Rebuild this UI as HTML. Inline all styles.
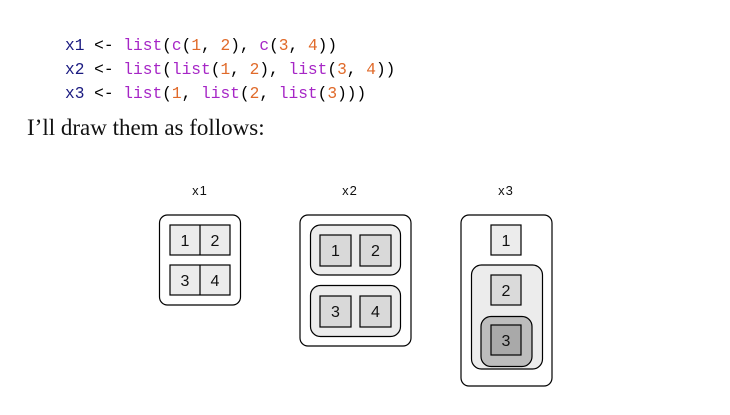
<!DOCTYPE html>
<html><head><meta charset="utf-8"><style>
body{margin:0;width:730px;height:415px;background:#fff;position:relative;overflow:hidden}
.code{position:absolute;left:65px;font-family:"Liberation Mono",monospace;font-size:16.2px;line-height:24px;white-space:pre;color:#000}
.v{color:#1a1a80}.f{color:#a626c6}.n{color:#e06a2a}
.p{position:absolute;left:27px;top:115px;font-family:"Liberation Serif",serif;font-size:23px;color:#111}
</style></head><body>
<div class="code" style="top:34px"><span class="v">x1</span> &lt;- <span class="f">list</span>(<span class="f">c</span>(<span class="n">1</span>, <span class="n">2</span>), <span class="f">c</span>(<span class="n">3</span>, <span class="n">4</span>))
<span class="v">x2</span> &lt;- <span class="f">list</span>(<span class="f">list</span>(<span class="n">1</span>, <span class="n">2</span>), <span class="f">list</span>(<span class="n">3</span>, <span class="n">4</span>))
<span class="v">x3</span> &lt;- <span class="f">list</span>(<span class="n">1</span>, <span class="f">list</span>(<span class="n">2</span>, <span class="f">list</span>(<span class="n">3</span>)))</div>
<div class="p">I’ll draw them as follows:</div>
<svg width="730" height="415" style="position:absolute;left:0;top:0" font-family="Liberation Sans, sans-serif">
<g font-size="13" text-anchor="middle" fill="#111" letter-spacing="1">
<text x="200" y="195">x1</text><text x="350" y="195">x2</text><text x="506" y="195">x3</text></g>
<g stroke="#000" stroke-width="1.2">
<rect x="159.5" y="215" width="81" height="90" rx="8" fill="#fff"/>
<rect x="170" y="225" width="60" height="30" fill="#ececec"/><line x1="200" y1="225" x2="200" y2="255"/>
<rect x="170" y="265" width="60" height="30" fill="#ececec"/><line x1="200" y1="265" x2="200" y2="295"/>
<rect x="300" y="215" width="111" height="131" rx="8" fill="#fff"/>
<rect x="310.5" y="225" width="90" height="50" rx="10" fill="#ececec"/>
<rect x="320" y="235" width="31" height="31" fill="#d9d9d9"/><rect x="360" y="235" width="31" height="31" fill="#d9d9d9"/>
<rect x="310.5" y="285.5" width="90" height="51" rx="10" fill="#ececec"/>
<rect x="320" y="296" width="31" height="31" fill="#d9d9d9"/><rect x="360" y="296" width="31" height="31" fill="#d9d9d9"/>
<rect x="461" y="215" width="91" height="171" rx="8" fill="#fff"/>
<rect x="491" y="225" width="30" height="30" fill="#ececec"/>
<rect x="471.5" y="265" width="71" height="104" rx="10" fill="#ececec"/>
<rect x="491" y="275" width="30" height="30" fill="#dadada"/>
<rect x="481" y="316.5" width="51" height="50" rx="10" fill="#bdbdbd"/>
<rect x="491" y="325" width="30" height="30" fill="#a9a9a9"/>
</g>
<g font-size="16" text-anchor="middle" fill="#111">
<text x="185" y="246">1</text><text x="215" y="246">2</text><text x="185" y="286">3</text><text x="215" y="286">4</text>
<text x="335.5" y="256">1</text><text x="375.5" y="256">2</text><text x="335.5" y="317">3</text><text x="375.5" y="317">4</text>
<text x="506" y="246">1</text><text x="506" y="296">2</text><text x="506" y="346">3</text></g>
</svg>
</body></html>
